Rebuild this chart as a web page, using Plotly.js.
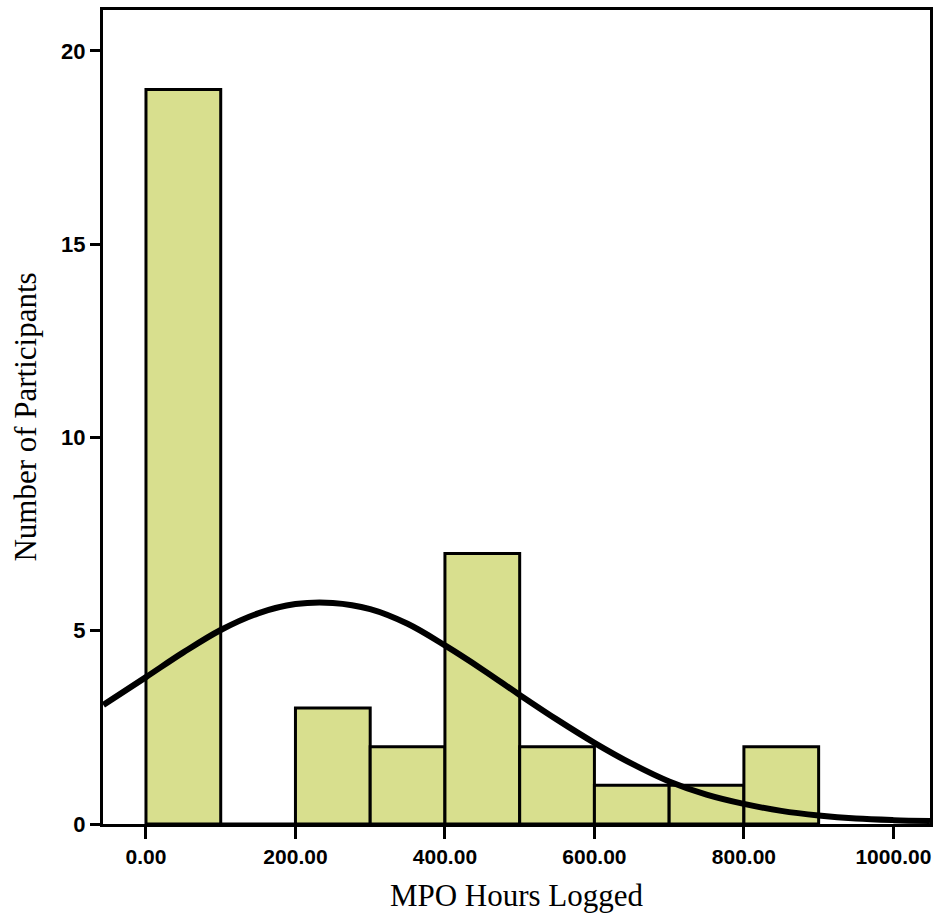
<!DOCTYPE html>
<html>
<head>
<meta charset="utf-8">
<script src="https://cdn.plot.ly/plotly-3.0.1.min.js"></script>
<style>html,body{margin:0;padding:0;background:#fff;}#chart{width:933px;height:917px;}</style>
</head>
<body>
<div id="chart"></div>
<script>
// Histogram bins (bin centres, width 100) and counts
const binCenters = [50, 150, 250, 350, 450, 550, 650, 750, 850];
const counts = [19, 0, 3, 2, 7, 2, 1, 1, 2];

// Normal curve points
const curveX = [-57, 0, 50, 100, 150, 200, 250, 300, 350, 400, 450, 500, 550, 600, 650, 700, 750, 800, 850, 900, 950, 1000, 1049];
const curveY = [3.08, 3.80, 4.44, 5.02, 5.45, 5.69, 5.72, 5.56, 5.18, 4.62, 4.00, 3.34, 2.70, 2.10, 1.56, 1.10, 0.76, 0.52, 0.34, 0.22, 0.14, 0.10, 0.08];

const xTicks = [0, 200, 400, 600, 800, 1000];
const xTickText = ['0.00', '200.00', '400.00', '600.00', '800.00', '1000.00'];
const yTicks = [0, 5, 10, 15, 20];

const traces = [
  {
    type: 'bar',
    x: binCenters,
    y: counts,
    width: 100,
    marker: {color: '#d8df8e', line: {color: '#000', width: 3}},
    hoverinfo: 'skip'
  },
  {
    type: 'scatter',
    mode: 'lines',
    x: curveX,
    y: curveY,
    line: {color: '#000', width: 6, shape: 'spline', smoothing: 1},
    hoverinfo: 'skip'
  }
];

const layout = {
  width: 933, height: 917,
  margin: {l: 103, r: 3, t: 10, b: 93},
  paper_bgcolor: '#fff', plot_bgcolor: '#fff',
  showlegend: false,
  bargap: 0,
  xaxis: {
    range: [-57.5, 1049],
    tickvals: xTicks, ticktext: xTickText,
    ticks: 'outside', ticklen: 12, tickwidth: 3, tickcolor: '#000',
    showline: true, linecolor: '#000', linewidth: 3, mirror: true,
    showgrid: false, zeroline: false,
    tickfont: {family: 'Liberation Sans, Arial, sans-serif', size: 21, color: '#000', weight: 'bold'},
    title: {text: 'MPO Hours Logged', font: {family: 'Liberation Serif, Times New Roman, serif', size: 31, color: '#000'}, standoff: 18}
  },
  yaxis: {
    range: [0, 21.06],
    tickvals: yTicks,
    ticks: 'outside', ticklen: 10, tickwidth: 3, tickcolor: '#000',
    showline: true, linecolor: '#000', linewidth: 3, mirror: true,
    showgrid: false, zeroline: false,
    tickfont: {family: 'Liberation Sans, Arial, sans-serif', size: 22, color: '#000', weight: 'bold'},
    title: {text: 'Number of Participants', font: {family: 'Liberation Serif, Times New Roman, serif', size: 31, color: '#000'}, standoff: 16}
  }
};

Plotly.newPlot('chart', traces, layout, {displayModeBar: false, staticPlot: true});
</script>
</body>
</html>
